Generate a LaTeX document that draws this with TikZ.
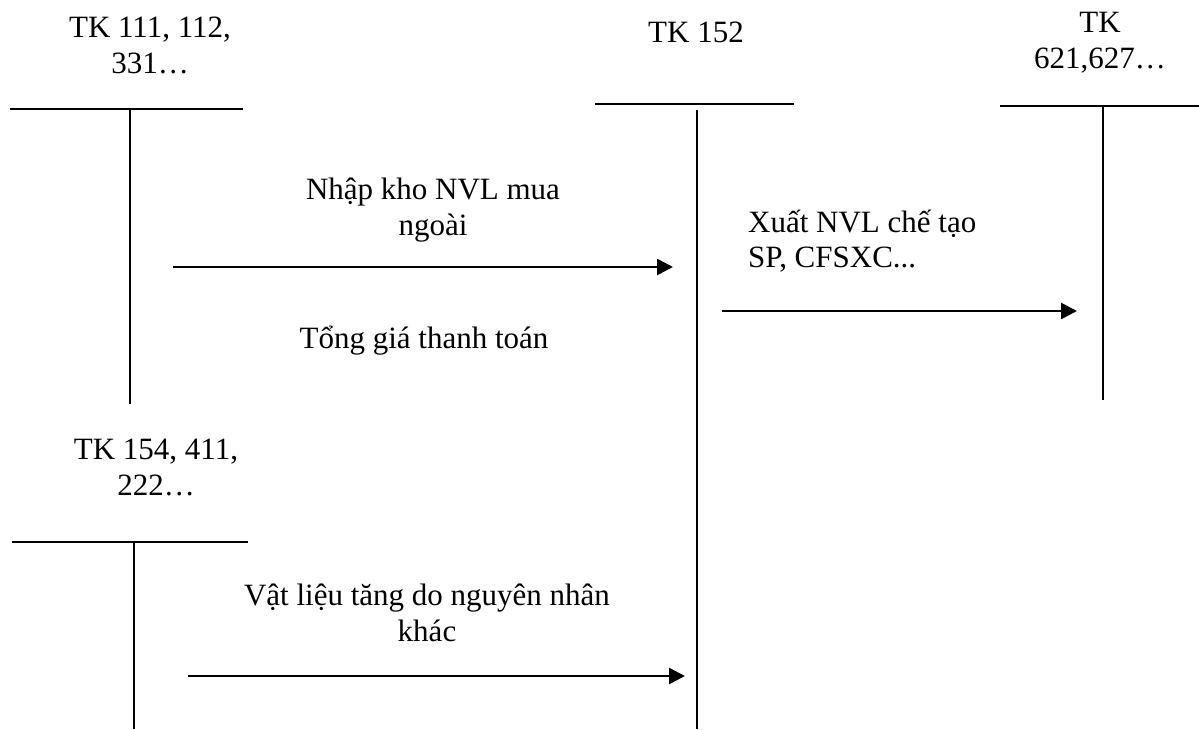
\documentclass[tikz,border=0pt]{standalone}
\usepackage{fontspec}
\setmainfont{Liberation Serif}
\usetikzlibrary{arrows.meta}
\begin{document}
\begin{tikzpicture}[x=1pt,y=-1pt,
  tline/.style={line width=2pt},
  lbl/.style={anchor=base,inner sep=0pt,font=\fontsize{31}{36}\selectfont,align=center},
  lblL/.style={anchor=base west,inner sep=0pt,font=\fontsize{31}{35}\selectfont,align=left},
  flow/.style={line width=2.6pt,-{Triangle[length=16pt,width=16pt]}}]
\useasboundingbox (0,0) rectangle (1199,729);

% account headings (anchored on the baseline of the last line)
\node[lbl] (h1) at (150,73) {TK 111, 112,\\331\dots};
\node[lbl] (h2) at (696,42) {TK 152};
\node[lbl] (h3) at (1100,68) {TK\\621,627\dots};
\node[lbl] (h4) at (156,495) {TK 154, 411,\\222\dots};

% T-accounts
\coordinate (a1l) at (10,109);  \coordinate (a1r) at (243,109);
\coordinate (a1t) at (130,109); \coordinate (a1b) at (130,404);
\coordinate (a2l) at (595,104); \coordinate (a2r) at (794,104);
\coordinate (a2t) at (697,110); \coordinate (a2b) at (697,729);
\coordinate (a3l) at (1000,106); \coordinate (a3r) at (1199,106);
\coordinate (a3t) at (1103,106); \coordinate (a3b) at (1103,400);
\coordinate (a4l) at (12,542);  \coordinate (a4r) at (248,542);
\coordinate (a4t) at (134,542); \coordinate (a4b) at (134,729);
\draw[tline] (a1l) -- (a1r) (a1t) -- (a1b);
\draw[tline] (a2l) -- (a2r) (a2t) -- (a2b);
\draw[tline] (a3l) -- (a3r) (a3t) -- (a3b);
\draw[tline] (a4l) -- (a4r) (a4t) -- (a4b);

% postings
\coordinate (f1s) at (173,267); \coordinate (f1e) at (673,267);
\coordinate (f2s) at (722,311); \coordinate (f2e) at (1077,311);
\coordinate (f3s) at (188,676); \coordinate (f3e) at (685,676);
\draw[flow] (f1s) -- (f1e);
\draw[flow] (f2s) -- (f2e);
\draw[flow] (f3s) -- (f3e);

\node[lbl] (t1) at (433,235) {Nhập kho NVL mua\\ngoài};
\node[lbl] (t2) at (424,348) {Tổng giá thanh toán};
\node[lblL] (t3) at (748,267) {Xuất NVL chế tạo\\SP, CFSXC...};
\node[lbl] (t4) at (427,641) {Vật liệu tăng do nguyên nhân\\khác};
\end{tikzpicture}
\end{document}
